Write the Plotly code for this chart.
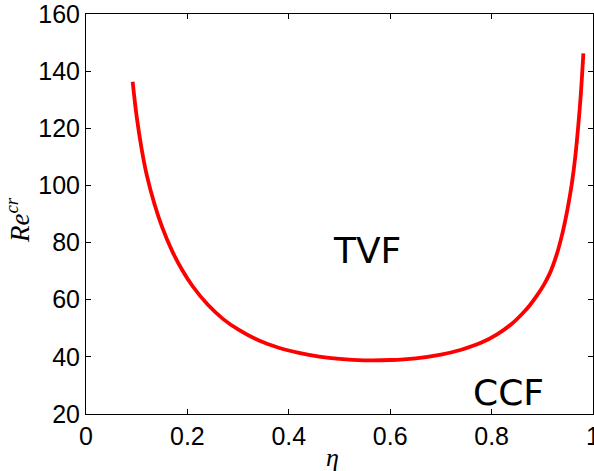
import plotly.graph_objects as go

# Critical Reynolds number vs radius ratio
eta = [0.092, 0.100, 0.110, 0.120, 0.135, 0.150, 0.170, 0.190, 0.210, 0.240,
       0.270, 0.300, 0.340, 0.380, 0.420, 0.460, 0.500, 0.550, 0.600, 0.650,
       0.700, 0.740, 0.780, 0.810, 0.840, 0.860, 0.875, 0.890, 0.903, 0.915,
       0.928, 0.940, 0.950, 0.958, 0.965, 0.971, 0.976, 0.981]
re_cr = [136.3, 124.0, 112.5, 103.5, 93.5, 85.5, 77.0, 70.3, 64.8, 58.3,
         53.3, 49.6, 45.8, 43.2, 41.4, 40.1, 39.3, 38.8, 38.9, 39.5,
         40.8, 42.5, 45.0, 47.8, 51.6, 55.0, 58.0, 61.6, 65.2, 69.3,
         75.6, 83.5, 92.0, 100.3, 110.0, 121.0, 132.0, 146.2]

x_ticks = [0, 0.2, 0.4, 0.6, 0.8, 1]
y_ticks = [20, 40, 60, 80, 100, 120, 140, 160]

region_labels = ["TVF", "CCF"]
region_x = [0.554, 0.833]
region_y = [77.4, 27.5]

fig = go.Figure()
fig.add_trace(go.Scatter(
    x=eta, y=re_cr, mode="lines",
    line=dict(color="#ff0000", width=3.8, shape="spline", smoothing=0.9),
    showlegend=False, hoverinfo="skip",
))

tick_font = dict(family="Liberation Sans, Arial, sans-serif", size=25, color="black")
axis_common = dict(
    showgrid=False, zeroline=False, showline=True, linecolor="black", linewidth=1,
    mirror="ticks", ticks="inside", ticklen=5, tickwidth=1, tickcolor="black",
    tickfont=tick_font, ticklabeloverflow="allow", automargin=False,
)

fig.update_layout(
    width=594, height=471,
    margin=dict(l=86, r=1, t=14, b=57),
    paper_bgcolor="white", plot_bgcolor="white",
    xaxis=dict(range=[0, 1], tickvals=x_ticks,
               ticktext=[("%g" % v) for v in x_ticks], **axis_common),
    yaxis=dict(range=[20, 160], tickvals=y_ticks,
               ticktext=[str(v) for v in y_ticks], **axis_common),
)

for t, xv, yv in zip(region_labels, region_x, region_y):
    fig.add_annotation(x=xv, y=yv, xref="x", yref="y", text=t, showarrow=False,
                       xanchor="center", yanchor="middle",
                       font=dict(family="DejaVu Sans", size=36, color="black"))

fig.add_annotation(
    x=-0.134, y=0.485, xref="paper", yref="paper", textangle=-90,
    xanchor="center", yanchor="middle",
    text="<i>Re</i><sup><i>cr</i></sup>", showarrow=False,
    font=dict(family="Liberation Serif, DejaVu Serif, serif", size=27, color="black"),
)
fig.add_annotation(
    x=0.487, y=-0.1075, xref="paper", yref="paper",
    xanchor="center", yanchor="middle",
    text="<i>η</i>", showarrow=False,
    font=dict(family="Liberation Serif, DejaVu Serif, serif", size=26, color="black"),
)

fig.write_html("out.html")
